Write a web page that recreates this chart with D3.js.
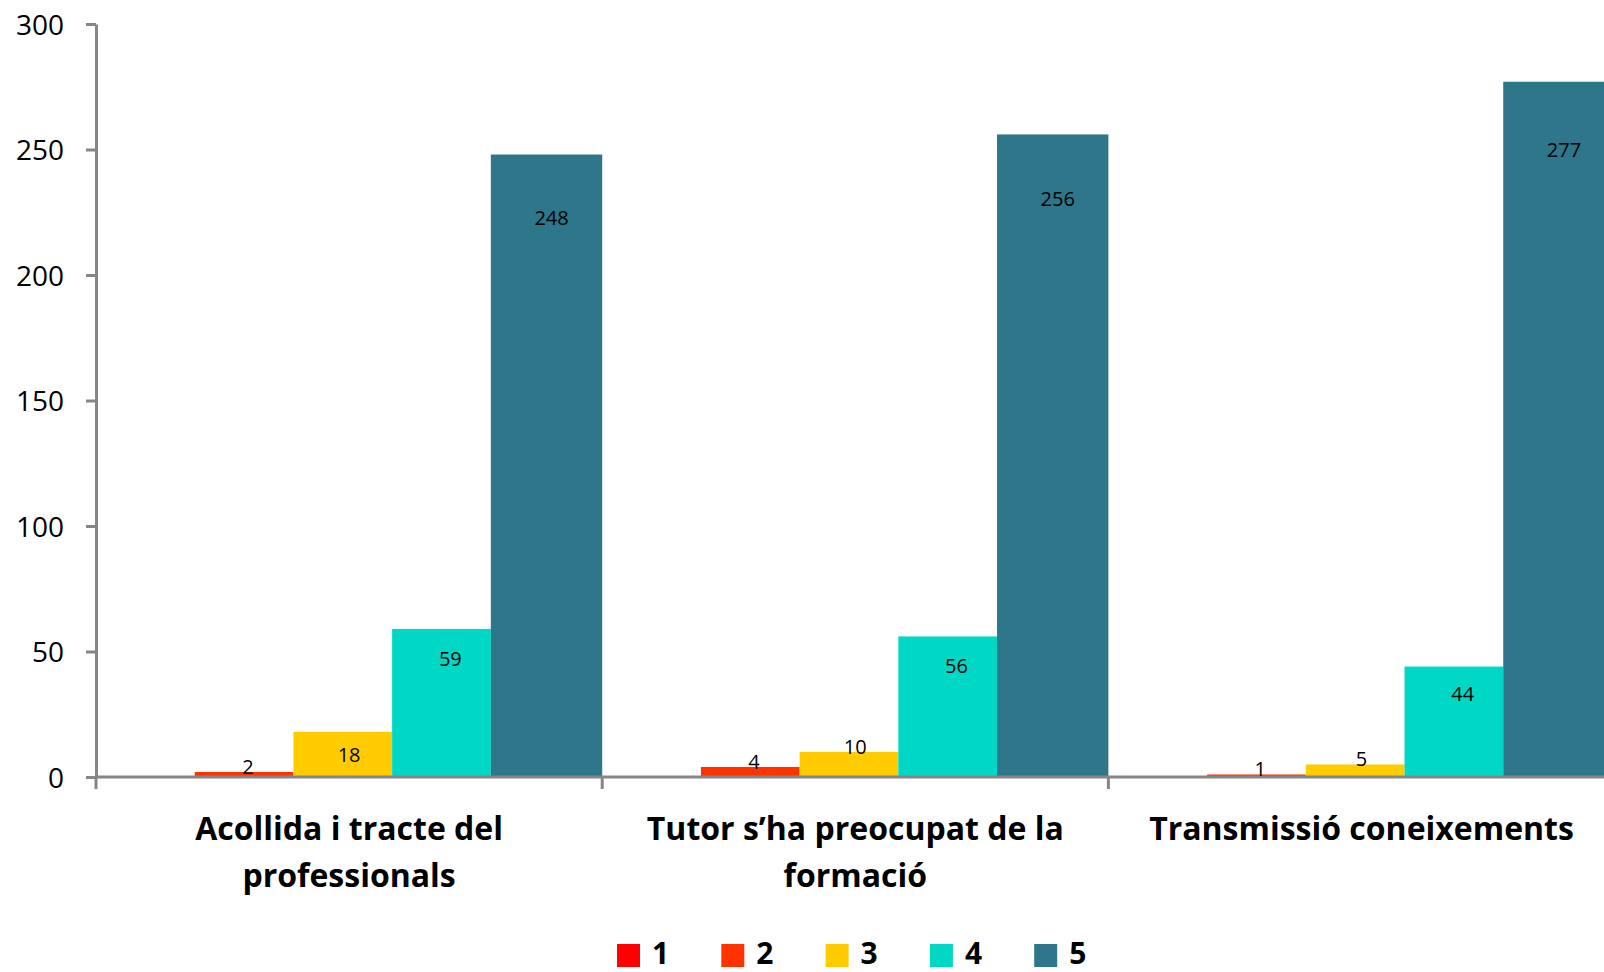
<!DOCTYPE html>
<html>
<head>
<meta charset="utf-8">
<script src="https://cdn.jsdelivr.net/npm/d3@7"></script>
<style>
  html, body { margin: 0; padding: 0; background: #fff; }
  svg { display: block; font-family: "Open Sans", "Noto Sans", sans-serif; }
</style>
</head>
<body>
<svg id="chart" width="1604" height="972"></svg>
<script>
// ---- data ----
const categoryLines = [
  ["Acollida i tracte del", "professionals"],
  ["Tutor s’ha preocupat de la", "formació"],
  ["Transmissió coneixements"]
];
const categories = categoryLines.map(l => l.join(" "));
const seriesNames = ["1", "2", "3", "4", "5"];
const series1 = [0, 0, 0];
const series2 = [2, 4, 1];
const series3 = [18, 10, 5];
const series4 = [59, 56, 44];
const series5 = [248, 256, 277];
const seriesValues = [series1, series2, series3, series4, series5];
const seriesColors = ["#FF0000", "#FF3300", "#FFCC00", "#00D8C5", "#2E768A"];
const yTicks = [0, 50, 100, 150, 200, 250, 300];

// ---- layout ----
const W = 1604, H = 972;
const left = 96, baseY = 777, topY = 24;
const catW = 506.2;
const axisColor = "#868686";

const svg = d3.select("#chart");
svg.append("rect").attr("width", W).attr("height", H).attr("fill", "#fff");

const x0 = d3.scaleBand().domain(categories).range([left, left + catW * categories.length]).padding(0);
const x1 = d3.scaleBand().domain(seriesNames).range([0, x0.bandwidth() * 0.975]).padding(0);
const xL = d3.scaleBand().domain(seriesNames).range([0, x0.bandwidth()]).padding(0);
const y = d3.scaleLinear().domain([0, 300]).range([baseY, topY]);

const data = [];
categories.forEach((c, ci) => {
  seriesNames.forEach((s, si) => {
    data.push({ cat: c, ci, s, si, v: seriesValues[si][ci] });
  });
});

// bars
const lastS = seriesNames[seriesNames.length - 1];
svg.append("g").selectAll("rect").data(data).join("rect")
  .attr("x", d => x0(d.cat) + x1(d.s))
  .attr("y", d => y(d.v))
  .attr("width", d => d.s === lastS ? x0.bandwidth() - x1(d.s) : x1.bandwidth())
  .attr("height", d => baseY - y(d.v))
  .attr("fill", d => seriesColors[d.si]);

// y axis
const yAxis = svg.append("g").attr("transform", `translate(${left},0)`)
  .call(d3.axisLeft(y).tickValues(yTicks).tickSize(10).tickSizeOuter(0).tickPadding(22));
yAxis.select(".domain").attr("stroke", axisColor).attr("stroke-width", 3);
yAxis.selectAll(".tick line").attr("stroke", axisColor).attr("stroke-width", 3);
yAxis.selectAll(".tick text").attr("font-size", 28).attr("fill", "#000")
  .attr("font-family", "'Open Sans', sans-serif").attr("dy", "0.36em");

// x axis baseline + category boundary ticks
const xg = svg.append("g");
xg.append("line").attr("x1", left).attr("x2", W + 20)
  .attr("y1", baseY).attr("y2", baseY).attr("stroke", axisColor).attr("stroke-width", 3);
const bounds = categories.map(c => x0(c)).concat([x0.range()[1]]);
xg.selectAll("line.b").data(bounds).join("line").attr("class", "b")
  .attr("x1", d => d).attr("x2", d => d)
  .attr("y1", baseY).attr("y2", baseY + 12)
  .attr("stroke", axisColor).attr("stroke-width", 3);

// category labels
const catG = svg.append("g");
categoryLines.forEach((lines, ci) => {
  const cx = x0(categories[ci]) + x0.bandwidth() / 2;
  const t = catG.append("text").attr("text-anchor", "middle")
    .attr("font-size", 32).attr("font-weight", "bold").attr("fill", "#000");
  lines.forEach((ln, li) => {
    t.append("tspan").attr("x", cx).attr("y", 840 + li * 47).text(ln);
  });
});

// data labels
svg.append("g").selectAll("text").data(data.filter(d => d.v > 0)).join("text")
  .attr("text-anchor", "middle")
  .attr("font-size", 20)
  .attr("fill", "#000")
  .attr("x", d => x0(d.cat) + xL(d.s) + xL.bandwidth() / 2)
  .attr("y", d => {
    const h = baseY - y(d.v);
    if (h < 30) return y(d.v) + 2;
    return y(d.v) + 20 + 0.07 * h + 7;
  })
  .text(d => d.v);

// legend
const legX = 617, legStep = 104.3, legY = 944;
const lg = svg.append("g");
seriesNames.forEach((s, i) => {
  lg.append("rect").attr("x", legX + i * legStep).attr("y", legY)
    .attr("width", 23).attr("height", 23).attr("fill", seriesColors[i]);
  lg.append("text").attr("x", legX + i * legStep + 35).attr("y", 964)
    .attr("font-size", 30).attr("font-weight", "bold").attr("fill", "#000").text(s);
});
</script>
</body>
</html>
